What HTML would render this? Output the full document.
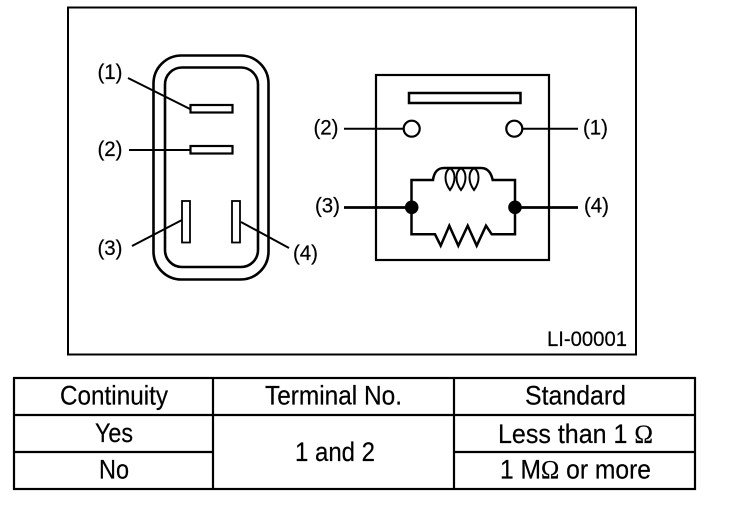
<!DOCTYPE html>
<html>
<head>
<meta charset="utf-8">
<style>
html,body{margin:0;padding:0;background:#fff;}
svg{display:block;}
text{font-family:"Liberation Sans",sans-serif;fill:#000;stroke:#000;stroke-width:.2;}
.s{font-family:"Liberation Serif",serif;}
</style>
</head>
<body>
<svg width="736" height="518" viewBox="0 0 736 518" xmlns="http://www.w3.org/2000/svg">
<rect width="736" height="518" fill="#fff"/>
<g fill="none" stroke="#000">
<rect x="68" y="7.500" width="568" height="347" stroke-width="2"/>
<rect x="153.500" y="55.500" width="115" height="224" rx="28" ry="28" stroke-width="2.600"/>
<rect x="165" y="67.500" width="93" height="199.500" rx="17" ry="17" stroke-width="2.600"/>
<path d="M128 78L190 109M129 150H190M132 246L182 220M241 222L289 248" stroke-width="2"/>
</g>
<g fill="#fff" stroke="#000">
<rect x="190.500" y="105" width="42" height="7.500" stroke-width="2.200"/>
<rect x="190.500" y="146" width="42" height="7.500" stroke-width="2.200"/>
<rect x="182" y="201" width="8" height="41.500" stroke-width="1.800"/>
<rect x="232" y="201" width="8" height="41.500" stroke-width="1.800"/>
</g>
<g fill="none" stroke="#000">
<rect x="376" y="75" width="173" height="185" stroke-width="2.200"/>
<path d="M344 128.700H403M523 128.700H578" stroke-width="2"/>
<path d="M344 207.500H411M515 207.500H578" stroke-width="2.800"/>
<path d="M411.500 207V180H433C434 172 438 168 444 168H481C487 168 491 172 492.700 180H515V207" stroke-width="2.500"/>
<path d="M450 168C444 172 444 182 450 190C456 182 456 172 450 168ZM461 168C455 172 455 182 461 190C467 182 467 172 461 168ZM474 168C468 172 468 182 474 190C480 182 480 172 474 168Z" stroke-width="2"/>
<path d="M411.500 207V234.300H435L440.700 245.700L449.300 225.700L458.300 245.700L467.700 225.700L476.700 245.700L486 225.700L491.700 234.300H515V207" stroke-width="2.500"/>
</g>
<rect x="409" y="93" width="111.500" height="10" fill="#fff" stroke="#000" stroke-width="2.500"/>
<circle cx="411.700" cy="128.700" r="8" fill="#fff" stroke="#000" stroke-width="2.200"/>
<circle cx="514.300" cy="128.700" r="8" fill="#fff" stroke="#000" stroke-width="2.200"/>
<circle cx="411.700" cy="207.300" r="6.800" fill="#000"/>
<circle cx="515" cy="207.300" r="6.800" fill="#000"/>
<g font-size="21.500">
<text x="97.500" y="79" textLength="25" lengthAdjust="spacingAndGlyphs">(1)</text>
<text x="97.500" y="156" textLength="25" lengthAdjust="spacingAndGlyphs">(2)</text>
<text x="97.500" y="255" textLength="25" lengthAdjust="spacingAndGlyphs">(3)</text>
<text x="293" y="260" textLength="25" lengthAdjust="spacingAndGlyphs">(4)</text>
<text x="313.500" y="134.500" textLength="25" lengthAdjust="spacingAndGlyphs">(2)</text>
<text x="583" y="134.500" textLength="25" lengthAdjust="spacingAndGlyphs">(1)</text>
<text x="315" y="212.500" textLength="25" lengthAdjust="spacingAndGlyphs">(3)</text>
<text x="584" y="212.500" textLength="25" lengthAdjust="spacingAndGlyphs">(4)</text>
<text x="547" y="346" textLength="80" lengthAdjust="spacingAndGlyphs">LI-00001</text>
</g>
<g fill="none" stroke="#000" stroke-width="2.200">
<rect x="14" y="378" width="681" height="111"/>
<path d="M14 415H695M14 452H213M454 452H695M213 378V489M454 378V489"/>
</g>
<g font-size="26.500">
<text x="60" y="404.300" textLength="108" lengthAdjust="spacingAndGlyphs">Continuity</text>
<text x="265" y="404.300" textLength="137" lengthAdjust="spacingAndGlyphs">Terminal No.</text>
<text x="525" y="404.300" textLength="101" lengthAdjust="spacingAndGlyphs">Standard</text>
<text x="95" y="442" textLength="38" lengthAdjust="spacingAndGlyphs">Yes</text>
<text x="99" y="478.500" textLength="30" lengthAdjust="spacingAndGlyphs">No</text>
<text x="295" y="461" textLength="80" lengthAdjust="spacingAndGlyphs">1 and 2</text>
<text x="498" y="443" textLength="155" lengthAdjust="spacingAndGlyphs">Less than 1 <tspan class="s">Ω</tspan></text>
<text x="500" y="478.500" textLength="151" lengthAdjust="spacingAndGlyphs">1 M<tspan class="s">Ω</tspan> or more</text>
</g>
</svg>
</body>
</html>
